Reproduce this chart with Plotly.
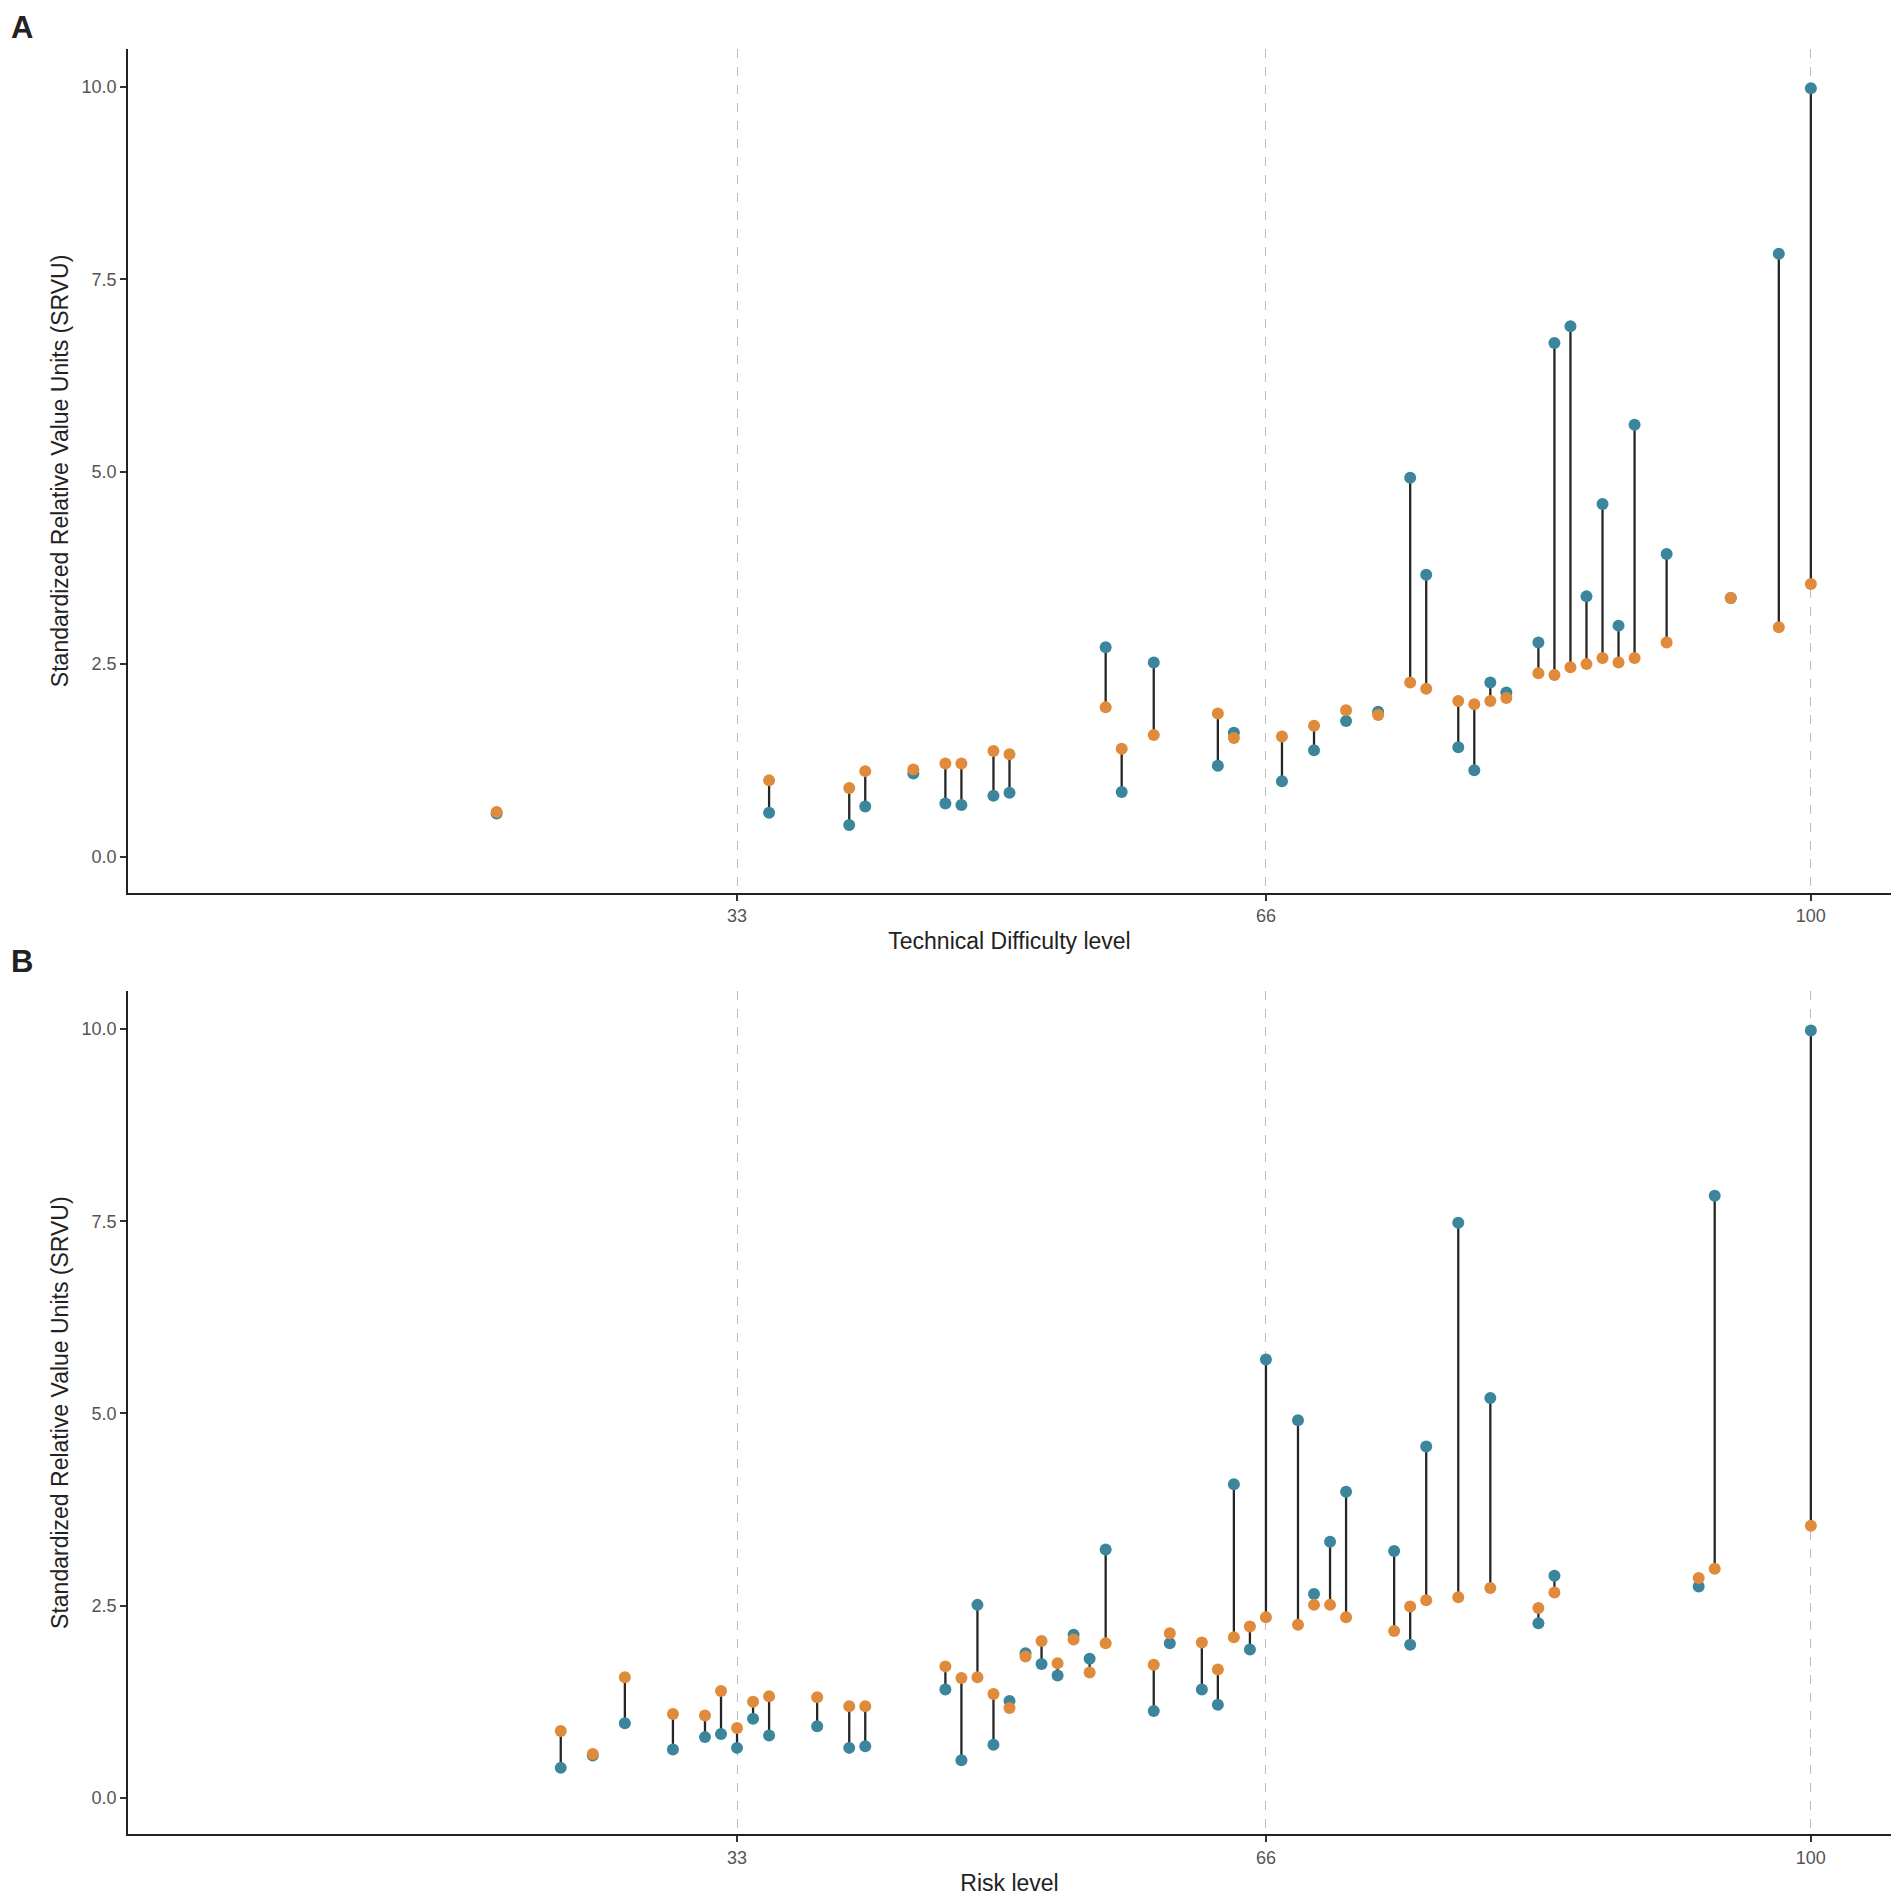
import plotly.graph_objects as go

# panel A: technical difficulty level
a_level = [18, 35, 40, 41, 44, 46, 47, 49, 50, 56, 57, 59, 63, 64, 67, 69, 71, 73,
           75, 76, 78, 79, 80, 81, 83, 84, 85, 86, 87, 88, 89, 91, 95, 98, 100]
a_blue = [0.56, 0.57, 0.41, 0.65, 1.08, 0.69, 0.67, 0.79, 0.83, 2.72, 0.84, 2.52, 1.18, 1.61, 0.98, 1.38, 1.76, 1.88,
          4.92, 3.66, 1.42, 1.12, 2.26, 2.13, 2.78, 6.67, 6.89, 3.38, 4.58, 3.00, 5.61, 3.93, 3.36, 7.83, 9.98]
a_orange = [0.58, 0.99, 0.89, 1.11, 1.13, 1.21, 1.21, 1.37, 1.33, 1.94, 1.40, 1.58, 1.86, 1.54, 1.56, 1.70, 1.90, 1.84,
            2.26, 2.18, 2.02, 1.98, 2.02, 2.06, 2.38, 2.36, 2.46, 2.50, 2.58, 2.52, 2.58, 2.78, 3.36, 2.98, 3.54]

# panel B: risk level
b_level = [22, 24, 26, 29, 31, 32, 33, 34, 35, 38, 40, 41, 46, 47, 48, 49, 50, 51, 52, 53,
           54, 55, 56, 59, 60, 62, 63, 64, 65, 66, 68, 69, 70, 71, 74, 75, 76, 78, 80, 83,
           84, 93, 94, 100]
b_blue = [0.39, 0.55, 0.97, 0.63, 0.79, 0.83, 0.65, 1.03, 0.81, 0.93, 0.65, 0.67, 1.41, 0.49, 2.51, 0.69, 1.26, 1.88, 1.74, 1.59,
          2.12, 1.81, 3.23, 1.13, 2.01, 1.41, 1.21, 4.08, 1.93, 5.70, 4.91, 2.65, 3.33, 3.98, 3.21, 1.99, 4.57, 7.48, 5.20, 2.27,
          2.89, 2.75, 7.83, 9.98]
b_orange = [0.87, 0.57, 1.57, 1.09, 1.07, 1.39, 0.91, 1.25, 1.32, 1.31, 1.19, 1.19, 1.71, 1.56, 1.57, 1.35, 1.17, 1.84, 2.04, 1.75,
            2.06, 1.63, 2.01, 1.73, 2.14, 2.02, 1.67, 2.09, 2.23, 2.35, 2.25, 2.51, 2.51, 2.35, 2.17, 2.49, 2.57, 2.61, 2.73, 2.47,
            2.67, 2.86, 2.98, 3.54]

x_ticks = [33, 66, 100]
y_ticks = [0, 2.5, 5, 7.5, 10]
y_labels = ["0.0", "2.5", "5.0", "7.5", "10.0"]

BLUE = "#3b869c"
ORANGE = "#e08a3c"
FONT = "Liberation Sans, Arial, sans-serif"

fig = go.Figure()


def add_panel(levels, blue, orange, xa, ya):
    seg_x, seg_y = [], []
    for x, b, o in zip(levels, blue, orange):
        seg_x += [x, x, None]
        seg_y += [b, o, None]
    fig.add_trace(go.Scatter(x=seg_x, y=seg_y, mode="lines", xaxis=xa, yaxis=ya,
                             line=dict(color="#262626", width=2.3), hoverinfo="skip"))
    fig.add_trace(go.Scatter(x=levels, y=blue, mode="markers", xaxis=xa, yaxis=ya,
                             marker=dict(color=BLUE, size=12)))
    fig.add_trace(go.Scatter(x=levels, y=orange, mode="markers", xaxis=xa, yaxis=ya,
                             marker=dict(color=ORANGE, size=12)))


add_panel(a_level, a_blue, a_orange, "x", "y")
add_panel(b_level, b_blue, b_orange, "x2", "y2")

xaxis_style = dict(range=[-5, 105], tickvals=x_ticks, ticks="outside", ticklen=6, tickwidth=1.5,
                   tickcolor="#333333", showline=True, linecolor="#222222", linewidth=1.8,
                   showgrid=True, gridcolor="#bdbdbd", griddash="dash", gridwidth=1.3,
                   zeroline=False, tickfont=dict(size=18, color="#555555", family=FONT))
yaxis_style = dict(range=[-0.47, 10.49], tickvals=y_ticks, ticktext=y_labels, ticks="outside",
                   ticklen=6, tickwidth=1.5, tickcolor="#333333", showline=True,
                   linecolor="#222222", linewidth=1.8, showgrid=False, zeroline=False,
                   tickfont=dict(size=18, color="#555555", family=FONT),
                   title=dict(text="Standardized Relative Value Units (SRVU)", standoff=6,
                              font=dict(size=23, color="#222222", family=FONT)))

fig.update_layout(
    width=1894, height=1895,
    margin=dict(l=120, r=11, t=41, b=62),
    paper_bgcolor="white", plot_bgcolor="white",
    showlegend=False,
    font=dict(family=FONT),
    xaxis=dict(xaxis_style, domain=[0, 1], anchor="y",
               title=dict(text="Technical Difficulty level", standoff=8,
                          font=dict(size=23, color="#222222", family=FONT))),
    yaxis=dict(yaxis_style, domain=[0.5273, 1], anchor="x"),
    xaxis2=dict(xaxis_style, domain=[0, 1], anchor="y2",
                title=dict(text="Risk level", standoff=8,
                           font=dict(size=23, color="#222222", family=FONT))),
    yaxis2=dict(yaxis_style, domain=[0, 0.4721], anchor="x2"),
    annotations=[
        dict(text="<b>A</b>", x=-0.060, y=1.0123, xref="paper", yref="paper",
             xanchor="center", yanchor="middle",
             showarrow=False, font=dict(size=31, color="#222222", family=FONT)),
        dict(text="<b>B</b>", x=-0.060, y=0.4886, xref="paper", yref="paper",
             xanchor="center", yanchor="middle",
             showarrow=False, font=dict(size=31, color="#222222", family=FONT)),
    ],
)

fig.write_html("out.html")
